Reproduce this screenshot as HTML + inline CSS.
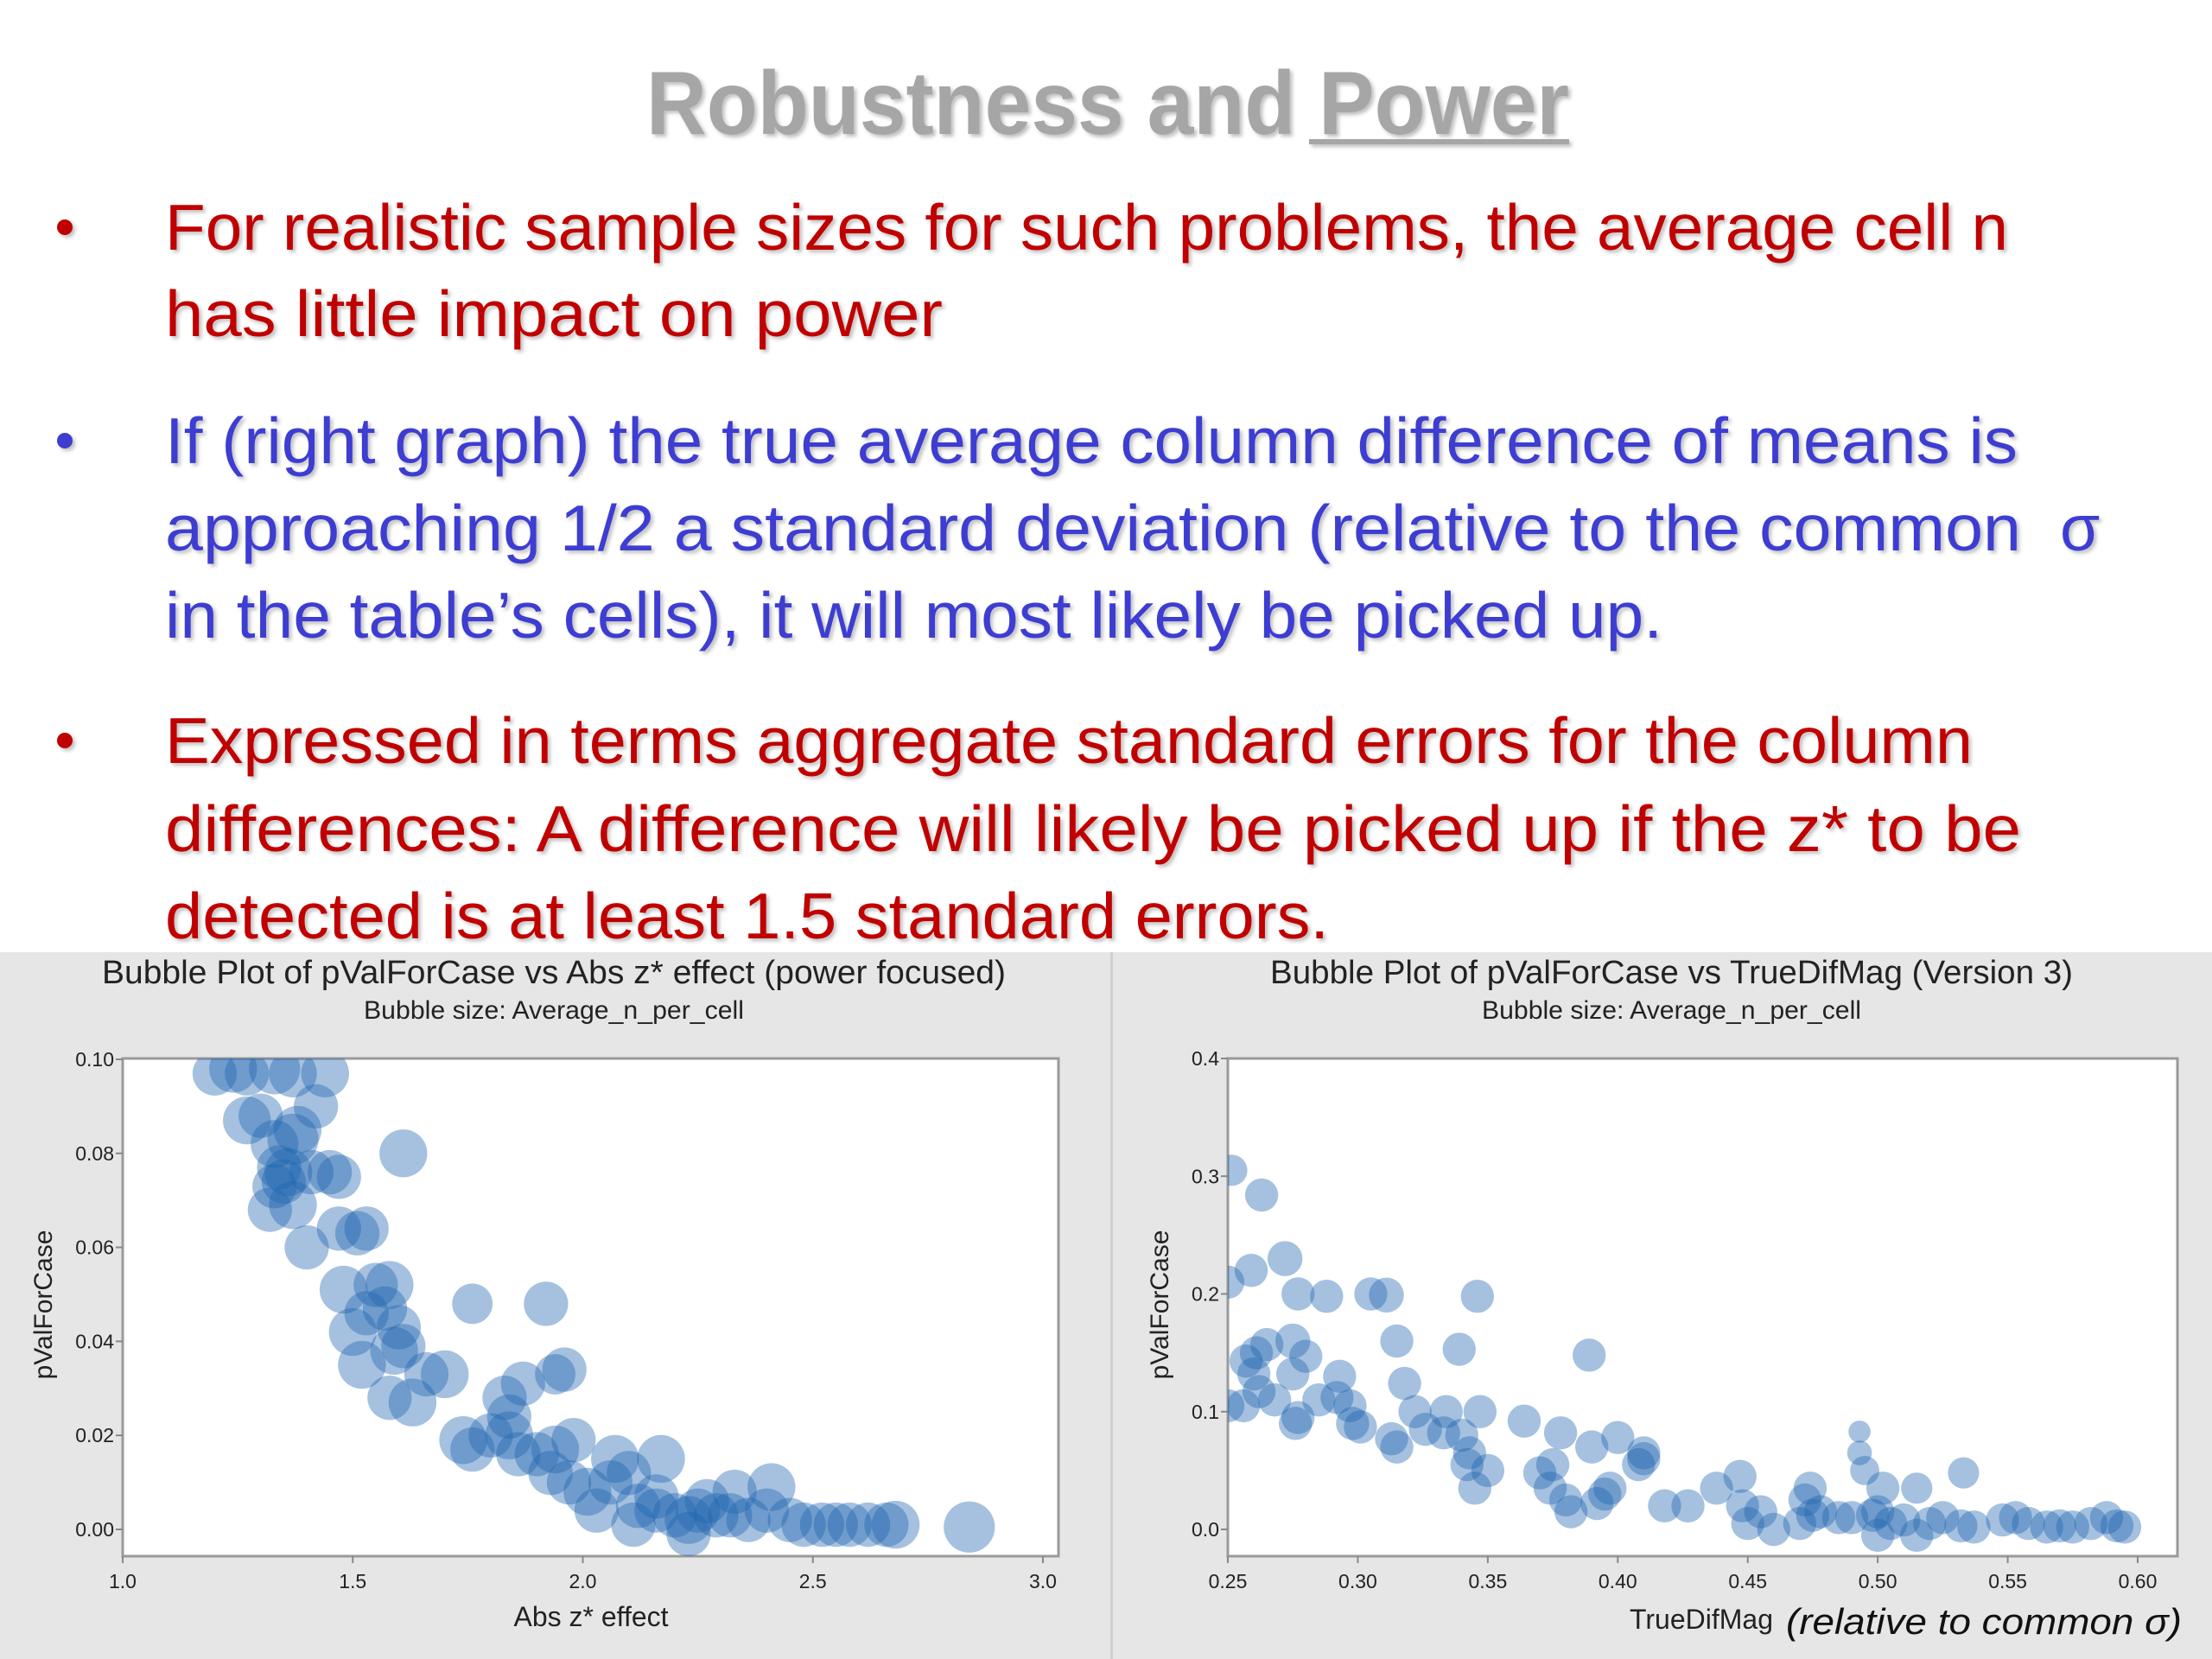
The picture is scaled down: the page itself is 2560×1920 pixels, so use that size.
<!DOCTYPE html>
<html><head><meta charset="utf-8"><style>
html,body{margin:0;padding:0;background:#fff;}
svg{display:block;font-family:"Liberation Sans",sans-serif;}
</style></head><body>
<svg id="slide" width="2560" height="1920" viewBox="0 0 2560 1920" xmlns="http://www.w3.org/2000/svg">
<defs><filter id="sh" x="-5%" y="-5%" width="110%" height="120%"><feDropShadow dx="3" dy="3" stdDeviation="2" flood-color="#000" flood-opacity="0.25"/></filter></defs>
<rect x="0" y="0" width="2560" height="1920" fill="#fff"/>
<g filter="url(#sh)">
<text x="748" y="155" font-size="104" font-weight="bold" fill="#a6a6a6" textLength="1068" lengthAdjust="spacingAndGlyphs">Robustness and Power</text>
<rect x="1515" y="161" width="301" height="6" fill="#a6a6a6"/>
</g>
<g font-size="75" filter="url(#sh)">
<g fill="#c00000">
<circle cx="75" cy="263" r="9"/>
<text x="191" y="289" textLength="2133" lengthAdjust="spacingAndGlyphs">For realistic sample sizes for such problems, the average cell n</text>
<text x="191" y="389" textLength="900" lengthAdjust="spacingAndGlyphs">has little impact on power</text>
</g>
<g fill="#3c3cd2">
<circle cx="75" cy="510" r="9"/>
<text x="191" y="536" textLength="2144" lengthAdjust="spacingAndGlyphs">If (right graph) the true average column difference of means is</text>
<text x="191" y="637" textLength="2148" lengthAdjust="spacingAndGlyphs">approaching 1/2 a standard deviation (relative to the common</text>
<text x="2384" y="637">σ</text>
<text x="191" y="738" textLength="1733" lengthAdjust="spacingAndGlyphs">in the table’s cells), it will most likely be picked up.</text>
</g>
<g fill="#c00000">
<circle cx="75" cy="857" r="9"/>
<text x="191" y="883" textLength="2092" lengthAdjust="spacingAndGlyphs">Expressed in terms aggregate standard errors for the column</text>
<text x="191" y="985" textLength="2148" lengthAdjust="spacingAndGlyphs">differences:  A difference will likely be picked up if the z* to be</text>
<text x="191" y="1086" textLength="1347" lengthAdjust="spacingAndGlyphs">detected is at least 1.5 standard errors.</text>
</g>
</g>
<rect x="0" y="1102" width="2560" height="818" fill="#e6e6e6"/>
<rect x="1285" y="1102" width="3" height="818" fill="#d0d0d0"/>
<g id="left"></g>
<g id="right"></g>
</svg>
<script>
const NS="http://www.w3.org/2000/svg";
// Left chart data
const leftX=[1.2,1.24,1.27,1.33,1.37,1.44,1.42,1.27,1.3,1.33,1.37,1.38,1.34,1.36,1.35,1.33,1.37,1.32,1.41,1.45,1.47,1.61,1.4,1.47,1.51,1.53,1.48,1.55,1.58,1.5,1.53,1.57,1.6,1.52,1.59,1.61,1.66,1.7,1.58,1.63,1.76,1.92,1.83,1.87,1.94,1.96,1.74,1.76,1.8,1.84,1.86,1.9,1.94,1.98,1.84,1.93,1.97,2.01,2.06,2.07,2.1,2.03,2.12,2.16,2.17,2.16,2.2,2.23,2.25,2.27,2.29,2.32,2.33,2.36,2.4,2.41,2.45,2.48,2.52,2.55,2.58,2.62,2.66,2.68,2.84,2.23,2.11];
const leftY=[0.097,0.098,0.097,0.098,0.097,0.097,0.090,0.087,0.088,0.082,0.083,0.085,0.077,0.076,0.074,0.073,0.069,0.068,0.076,0.076,0.075,0.080,0.060,0.064,0.063,0.064,0.051,0.052,0.052,0.042,0.046,0.047,0.043,0.035,0.038,0.039,0.033,0.033,0.028,0.027,0.048,0.048,0.028,0.031,0.033,0.034,0.019,0.017,0.020,0.020,0.016,0.016,0.017,0.019,0.024,0.012,0.010,0.008,0.010,0.015,0.012,0.004,0.005,0.007,0.015,0.004,0.003,0.002,0.004,0.006,0.003,0.003,0.008,0.002,0.004,0.009,0.002,0.001,0.001,0.001,0.001,0.001,0.001,0.001,0.0005,-0.001,0.001];
const leftN=[12,14,12,16,14,14,12,14,12,14,16,14,12,14,12,12,14,12,12,12,12,14,12,12,12,12,14,12,14,14,12,12,12,14,14,12,12,14,12,14,10,12,12,12,10,12,14,12,12,14,12,12,14,12,12,12,12,14,12,14,12,12,12,12,14,12,12,14,12,12,12,12,12,12,12,14,12,12,12,12,12,12,12,14,16,12,12];
const leftXTicks=[1.0,1.5,2.0,2.5,3.0];
const leftXLabels=["1.0","1.5","2.0","2.5","3.0"];
const leftYTicks=[0,0.02,0.04,0.06,0.08,0.10];
const leftYLabels=["0.00","0.02","0.04","0.06","0.08","0.10"];
// Right chart data
const rightX=[0.2515,0.263,0.25,0.259,0.272,0.277,0.288,0.305,0.311,0.346,0.315,0.339,0.389,0.257,0.261,0.265,0.275,0.28,0.275,0.293,0.26,0.268,0.256,0.262,0.25,0.277,0.276,0.285,0.292,0.297,0.298,0.301,0.318,0.322,0.313,0.315,0.326,0.334,0.333,0.34,0.343,0.347,0.342,0.345,0.35,0.364,0.37,0.375,0.378,0.374,0.38,0.382,0.39,0.4,0.395,0.392,0.397,0.41,0.408,0.41,0.418,0.427,0.438,0.447,0.448,0.45,0.455,0.46,0.472,0.474,0.475,0.478,0.485,0.49,0.493,0.493,0.495,0.498,0.5,0.502,0.505,0.51,0.515,0.52,0.525,0.532,0.533,0.537,0.548,0.553,0.558,0.565,0.57,0.575,0.582,0.588,0.592,0.595,0.515,0.5,0.47];
const rightY=[0.305,0.284,0.21,0.22,0.23,0.20,0.198,0.20,0.199,0.198,0.16,0.153,0.148,0.143,0.15,0.157,0.16,0.147,0.132,0.13,0.132,0.11,0.105,0.117,0.105,0.095,0.09,0.11,0.112,0.105,0.09,0.087,0.124,0.10,0.077,0.07,0.085,0.1,0.082,0.08,0.065,0.1,0.055,0.035,0.05,0.092,0.048,0.055,0.082,0.035,0.025,0.015,0.07,0.078,0.03,0.022,0.035,0.065,0.055,0.06,0.02,0.02,0.035,0.045,0.02,0.005,0.015,0.0,0.025,0.035,0.012,0.015,0.01,0.01,0.083,0.065,0.05,0.012,0.015,0.035,0.005,0.008,0.035,0.005,0.01,0.003,0.048,0.002,0.008,0.01,0.005,0.002,0.003,0.002,0.005,0.01,0.003,0.002,-0.005,-0.005,0.005];
const rightN=[8,9,9,9,10,9,9,9,10,9,9,9,9,9,9,9,10,9,9,9,9,9,9,9,9,9,9,9,9,9,9,9,9,9,9,9,9,9,9,9,9,9,9,9,9,9,9,9,9,9,9,9,9,9,9,9,9,9,9,9,9,9,9,9,9,9,9,9,9,9,9,9,9,9,4,5,7,9,9,9,9,9,8,9,9,9,8,9,9,9,9,9,9,9,9,9,9,9,9,9,9];
const rightXTicks=[0.25,0.30,0.35,0.40,0.45,0.50,0.55,0.60];
const rightXLabels=["0.25","0.30","0.35","0.40","0.45","0.50","0.55","0.60"];
const rightYTicks=[0,0.1,0.2,0.3,0.4];
const rightYLabels=["0.0","0.1","0.2","0.3","0.4"];

function mk(tag,attrs,parent){const e=document.createElementNS(NS,tag);for(const k in attrs)e.setAttribute(k,attrs[k]);parent.appendChild(e);return e;}

function chart(g,cfg,X,Y,N,xt,xl,yt,yl,rScale){
  const sx=v=>cfg.px0+(v-cfg.x0)/(cfg.x1-cfg.x0)*(cfg.px1-cfg.px0);
  const sy=v=>cfg.py0+(v-cfg.y0)/(cfg.y1-cfg.y0)*(cfg.py1-cfg.py0);
  const t=mk('text',{x:cfg.tx,y:1138,'font-size':38,fill:'#222',textLength:cfg.tl,lengthAdjust:'spacingAndGlyphs'},g);
  
  
  t.textContent=cfg.title;
  const st=mk('text',{x:cfg.sx,y:1179,'font-size':30,fill:'#222',textLength:cfg.sl,lengthAdjust:'spacingAndGlyphs'},g);
  
  
  st.textContent='Bubble size: Average_n_per_cell';
  const pa=mk('rect',{x:cfg.L,y:cfg.T,width:cfg.R-cfg.L,height:cfg.B-cfg.T,fill:'#fff',stroke:'#9a9a9a','stroke-width':3},g);
  
  
  const clip=mk('clipPath',{id:cfg.id+'clip'},g);
  mk('rect',{x:cfg.L,y:cfg.T,width:cfg.R-cfg.L,height:cfg.B-cfg.T},clip);
  const bg=mk('g',{'clip-path':'url(#'+cfg.id+'clip)'},g);
  
  
  for(let i=0;i<X.length;i++){
    const c=mk('circle',{cx:sx(X[i]),cy:sy(Y[i]),r:rScale*Math.sqrt(N[i]),fill:'#1f64b0','fill-opacity':0.4},bg);
    
    
  }
  for(let i=0;i<xt.length;i++){
    const x=sx(xt[i]);
    mk('line',{x1:x,x2:x,y1:cfg.B,y2:cfg.B+8,stroke:'#888','stroke-width':2},g);
    const l=mk('text',{x:x,y:1838,'font-size':23,'text-anchor':'middle',fill:'#222'},g);
    
    
    l.textContent=xl[i];
  }
  for(let i=0;i<yt.length;i++){
    const y=sy(yt[i]);
    mk('line',{x1:cfg.L-8,x2:cfg.L,y1:y,y2:y,stroke:'#888','stroke-width':2},g);
    const l=mk('text',{x:cfg.L-10,y:y+8,'font-size':23,'text-anchor':'end',fill:'#222'},g);
    
    
    l.textContent=yl[i];
  }
  const yt2=mk('text',{x:0,y:0,'font-size':30,fill:'#222','text-anchor':'middle',transform:'translate('+cfg.yx+',1510) rotate(-90)'},g);
  
  
  yt2.textContent='pValForCase';
  return {sx,sy};
}
const L=document.getElementById('left'),R=document.getElementById('right');
chart(L,{id:'l',title:'Bubble Plot of pValForCase vs Abs z* effect  (power focused)',tx:118,tl:1046,sx:421,sl:440,
  L:142,R:1225,T:1225,B:1801,x0:1,x1:3,px0:142,px1:1207,y0:0,y1:0.1,py0:1770,py1:1226,yx:60},
  leftX,leftY,leftN,leftXTicks,leftXLabels,leftYTicks,leftYLabels,7.4);
chart(R,{id:'r',title:'Bubble Plot of pValForCase vs TrueDifMag (Version 3)',tx:1470,tl:929,sx:1715,sl:439,
  L:1421,R:2520,T:1225,B:1801,x0:0.25,x1:0.60,px0:1421,px1:2474,y0:0,y1:0.4,py0:1770,py1:1225,yx:1352},
  rightX,rightY,rightN,rightXTicks,rightXLabels,rightYTicks,rightYLabels,6.4);
const xa=mk('text',{x:684,y:1882,'font-size':32,'text-anchor':'middle',fill:'#222'},L);


xa.textContent='Abs z* effect';
const xb=mk('text',{x:1886,y:1885,'font-size':32,fill:'#222',textLength:166,lengthAdjust:'spacingAndGlyphs'},R);


xb.textContent='TrueDifMag';
const xc=mk('text',{x:2067,y:1891,'font-size':42,'font-style':'italic',fill:'#111',textLength:458,lengthAdjust:'spacingAndGlyphs'},R);


xc.textContent='(relative to common σ)';
</script>
</body></html>
